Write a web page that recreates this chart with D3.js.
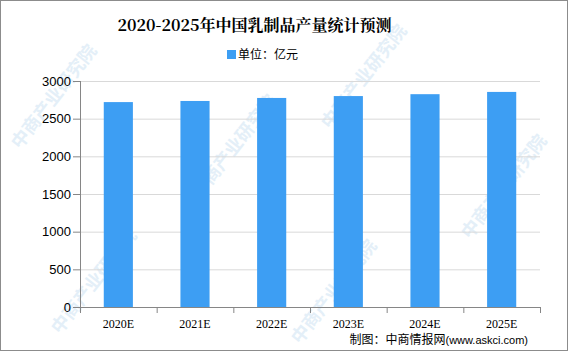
<!DOCTYPE html>
<html>
<head>
<meta charset="utf-8">
<script src="https://cdn.jsdelivr.net/npm/d3@7"></script>
<style>
  body { margin: 0; background: #fff; }
  svg { display: block; }
</style>
</head>
<body>
<div id="chart"></div>
<script>
'use strict'

const years = ['2020E', '2021E', '2022E', '2023E', '2024E', '2025E']
const output = [2720, 2735, 2775, 2800, 2825, 2855]
const yTicks = [0, 500, 1000, 1500, 2000, 2500, 3000]

const W = 569, H = 353
const margin = {top: 81, right: 29, bottom: 46, left: 80}
const width = W - margin.left - margin.right,
      height = H - margin.top - margin.bottom

const svg = d3.select('#chart').append('svg')
  .attr('width', W)
  .attr('height', H)

// frame
svg.append('rect')
  .attr('x', 0.5).attr('y', 0.5)
  .attr('width', W - 2).attr('height', H - 3)
  .attr('fill', '#fff')
  .attr('stroke', '#8c8c8c')

// watermarks (faint)
const wm = svg.append('g').attr('fill', '#e4eff8').attr('font-family', 'Noto Sans CJK SC')
  .attr('font-size', 18).attr('font-weight', 'bold')
const marks = [[20, 150], [200, 200], [330, 130], [60, 335], [300, 345], [470, 240]]
marks.forEach(p => {
  wm.append('text')
    .attr('transform', 'translate(' + p[0] + ',' + p[1] + ') rotate(-52)')
    .text('中商产业研究院')
})

const x = d3.scaleBand().domain(years).range([0, width]).paddingInner(0.62).paddingOuter(0.31)
const y = d3.scaleLinear().domain([0, 3000]).range([height, 0])

const g = svg.append('g')
  .attr('transform', 'translate(' + margin.left + ',' + margin.top + ')')

// grid
g.append('g')
  .selectAll('line')
  .data(yTicks.slice(1))
  .join('line')
  .attr('x1', 0).attr('x2', width)
  .attr('y1', d => y(d) + 0.5).attr('y2', d => y(d) + 0.5)
  .attr('stroke', '#d9d9d9')

// bars
g.selectAll('.bar')
  .data(output)
  .join('rect')
  .attr('class', 'bar')
  .attr('x', (d, i) => x(years[i]))
  .attr('width', x.bandwidth())
  .attr('y', d => y(d))
  .attr('height', d => height - y(d))
  .attr('fill', '#3d9ef3')

// y axis
const yAxis = g.append('g')
  .call(d3.axisLeft(y).tickValues(yTicks).tickFormat(d3.format('d')).tickSize(7).tickPadding(2))
yAxis.select('.domain').attr('stroke', '#868686').attr('d', 'M0.5,' + height + 'V0')
yAxis.selectAll('.tick line').attr('stroke', '#868686')
yAxis.selectAll('text').attr('font-family', 'Liberation Sans, Arial').attr('font-size', 13).attr('fill', '#000')

// x axis
const xb = d3.scalePoint().domain(d3.range(years.length + 1)).range([0, width])
const xAxis = g.append('g')
  .attr('transform', 'translate(0,' + height + ')')
xAxis.append('line')
  .attr('x1', 0).attr('x2', width)
  .attr('y1', 0.5).attr('y2', 0.5)
  .attr('stroke', '#868686')
xAxis.selectAll('.tk')
  .data(xb.domain())
  .join('line')
  .attr('x1', d => xb(d) + 0.5).attr('x2', d => xb(d) + 0.5)
  .attr('y1', 0).attr('y2', 6)
  .attr('stroke', '#868686')
xAxis.selectAll('.lbl')
  .data(years)
  .join('text')
  .attr('x', d => x(d) + x.bandwidth() / 2)
  .attr('y', 21)
  .attr('text-anchor', 'middle')
  .attr('font-family', 'Liberation Serif, DejaVu Serif')
  .attr('font-size', 12)
  .text(d => d)

// title
svg.append('text')
  .attr('x', W / 2 - 30).attr('y', 31)
  .attr('text-anchor', 'middle')
  .attr('font-family', 'Noto Serif CJK SC, Noto Sans CJK SC')
  .attr('font-weight', 'bold')
  .attr('font-size', 16)
  .text('2020-2025年中国乳制品产量统计预测')

// legend
svg.append('rect')
  .attr('x', 227).attr('y', 50).attr('width', 9).attr('height', 9)
  .attr('fill', '#3d9ef3')
svg.append('text')
  .attr('x', 238).attr('y', 59)
  .attr('font-family', 'Noto Sans CJK SC')
  .attr('font-size', 12)
  .text('单位：亿元')

// source
svg.append('text')
  .attr('x', 528).attr('y', 344)
  .attr('text-anchor', 'end')
  .attr('font-family', 'Noto Sans CJK SC')
  .attr('font-size', 12)
  .text('制图：中商情报网')
  .append('tspan')
  .attr('font-family', 'Liberation Sans, Arial')
  .attr('font-size', 11)
  .text('(www.askci.com)')
</script>
</body>
</html>
